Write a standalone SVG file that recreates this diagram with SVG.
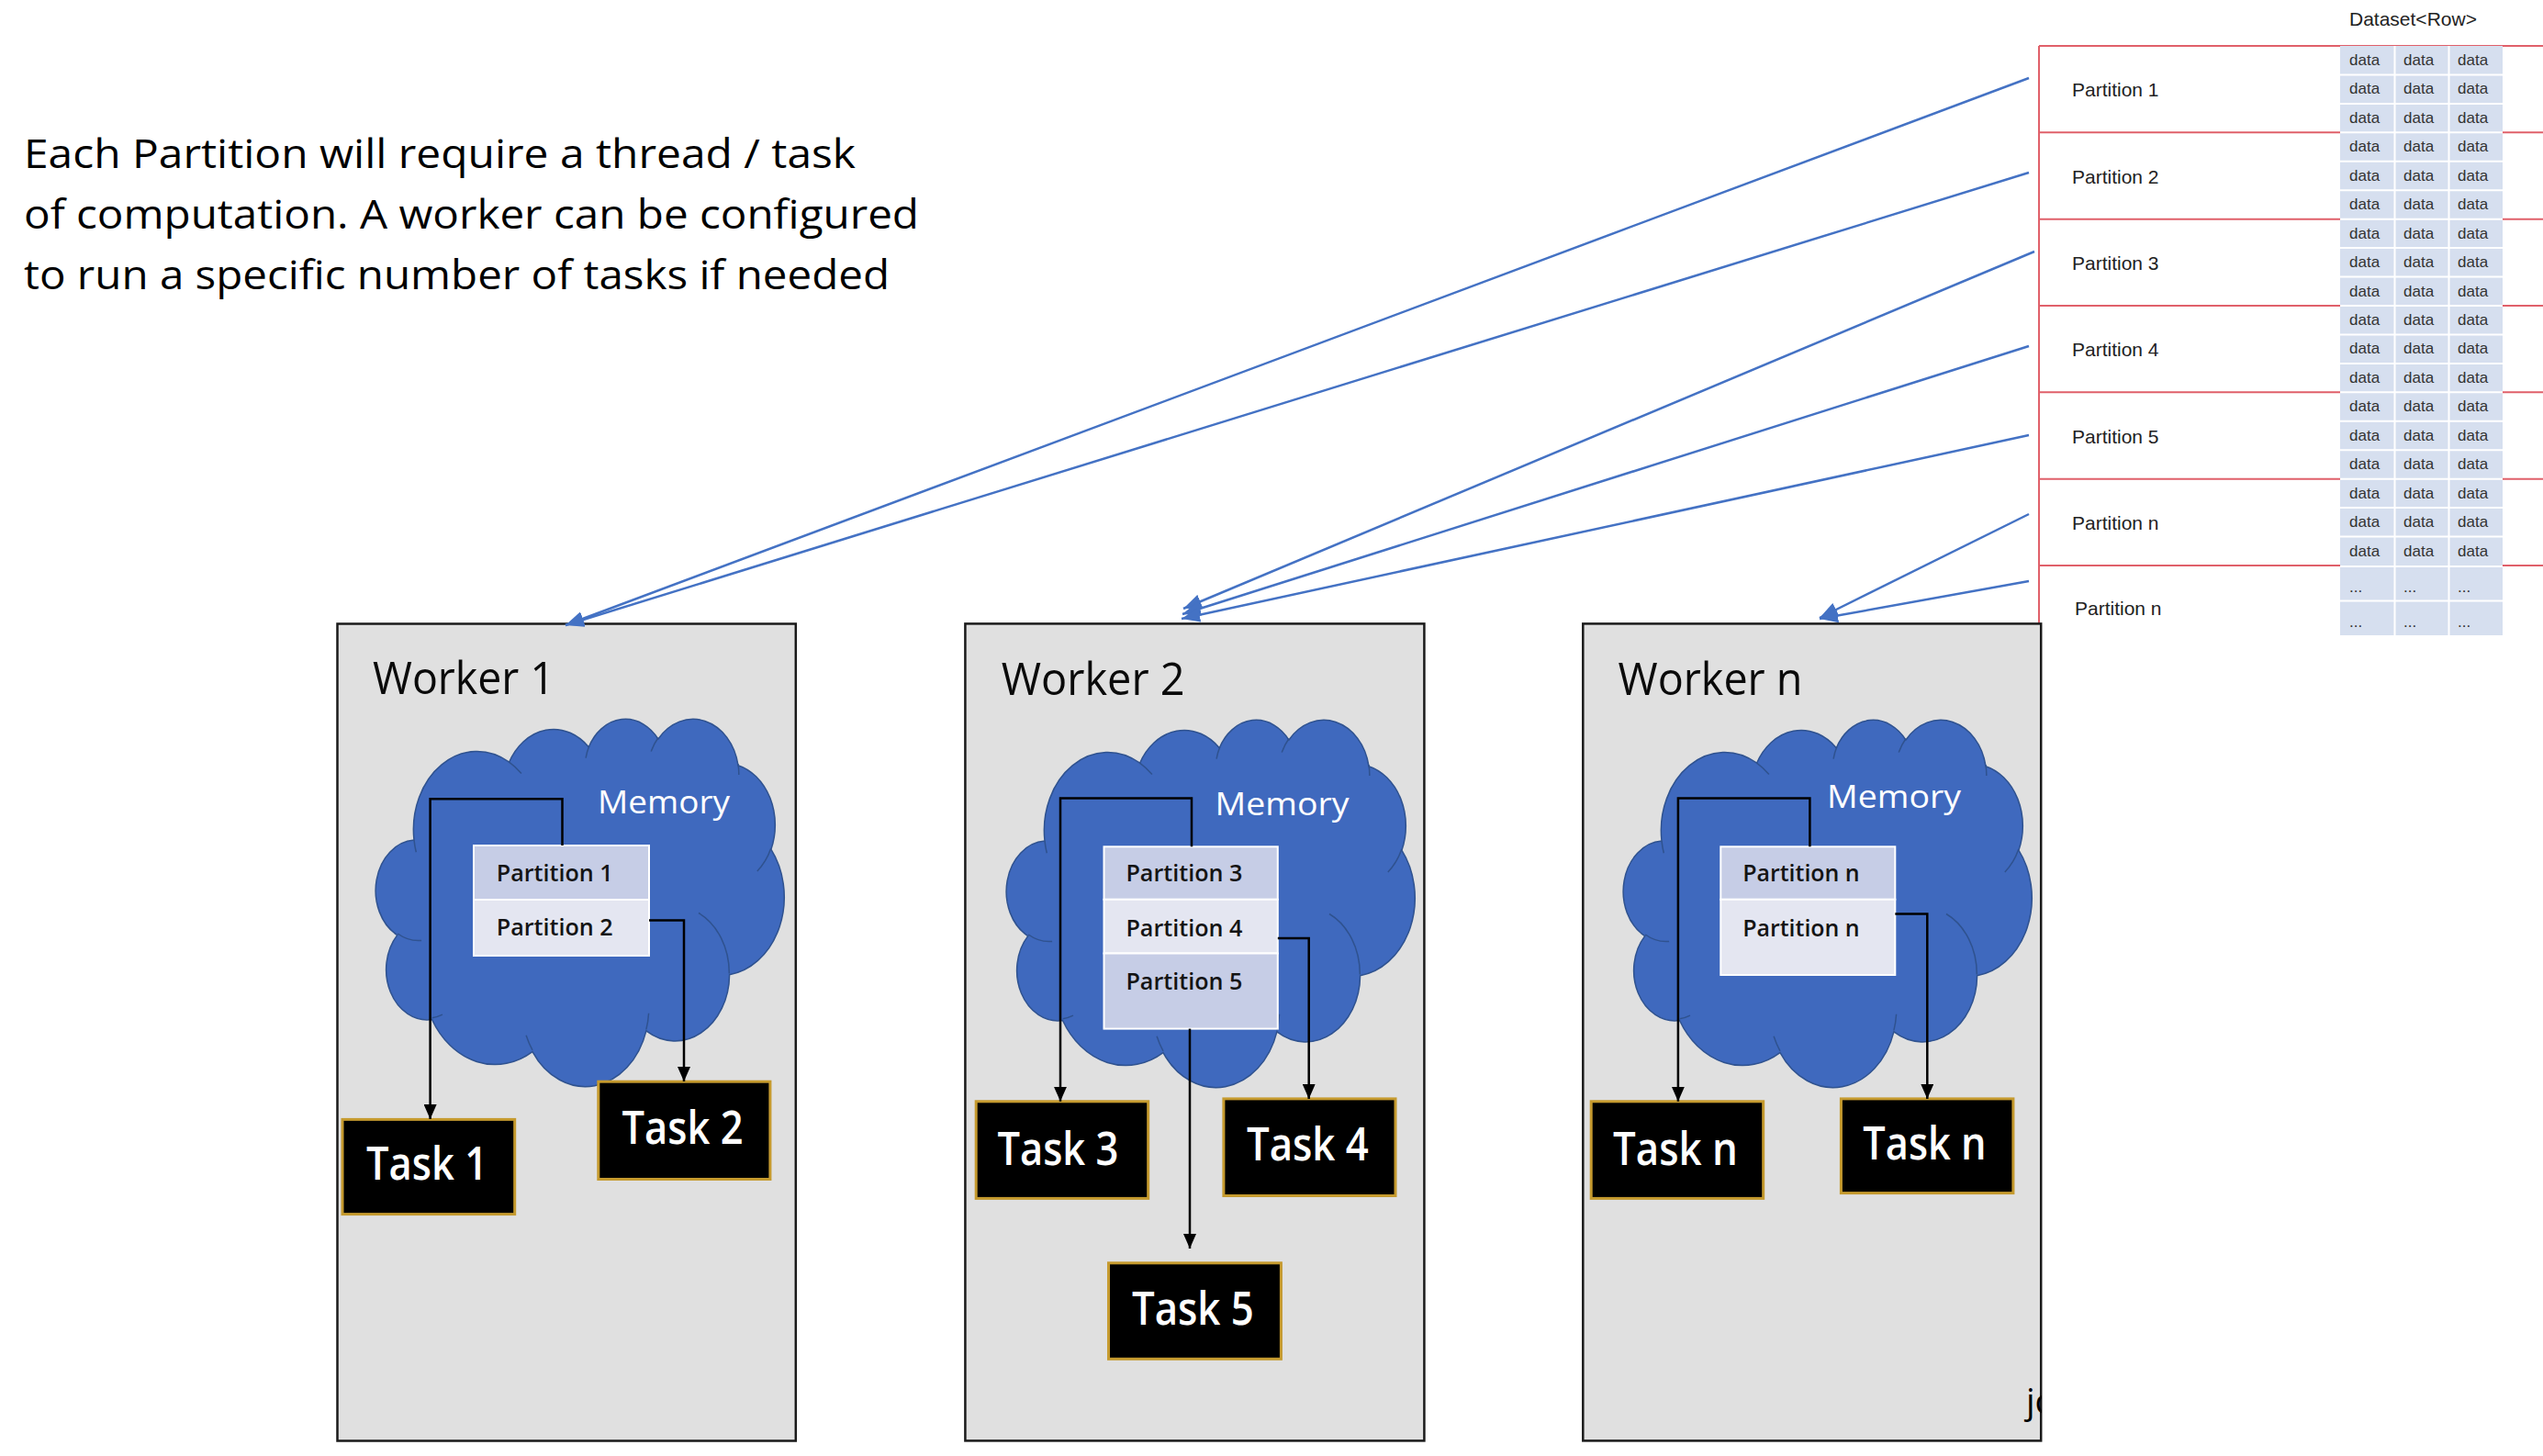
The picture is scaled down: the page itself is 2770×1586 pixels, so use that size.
<svg xmlns="http://www.w3.org/2000/svg" width="2770" height="1586" viewBox="0 0 2770 1586">
<style>
.note{font-family:"Open Sans","Liberation Sans",sans-serif;font-size:44px;font-weight:500;fill:#000}
.wtitle{font-family:"Open Sans","Liberation Sans",sans-serif;font-size:50px;font-weight:500;fill:#0a0a0a}
.mem{font-family:"Open Sans","Liberation Sans",sans-serif;font-size:35px;fill:#fff}
.ptxt{font-family:"Open Sans","Liberation Sans",sans-serif;font-size:26px;font-weight:600;fill:#141414}
.ttxt{font-family:"Open Sans","Liberation Sans",sans-serif;font-size:50px;font-weight:600;fill:#fff}
.tbl{font-family:"Liberation Sans",Arial,sans-serif;font-size:21px;fill:#222}
.dtxt{font-family:"Liberation Sans",Arial,sans-serif;font-size:17px;fill:#333}
.worker{fill:#E0E0E0;stroke:#1a1a1a;stroke-width:2.5}
.task{fill:#000;stroke:#C59A2E;stroke-width:3}
.cloud-fill{fill:#3F69BE;stroke:#2F528F;stroke-width:1.5}
.cloud-crease{fill:none;stroke:#2F528F;stroke-width:1.5}
.prow-d{fill:#C6CDE6;stroke:#fff;stroke-width:2}
.prow-l{fill:#E4E6F1;stroke:#fff;stroke-width:2}
.conn{fill:none;stroke:#000;stroke-width:2.5;marker-end:url(#ah)}
.blue{fill:none;stroke:#4472C4;stroke-width:2.5;marker-end:url(#bh)}
.red{fill:none;stroke:#E0606A;stroke-width:2}
</style>
<defs>
<marker id="ah" viewBox="0 0 16 14" refX="16" refY="7" markerWidth="16" markerHeight="14" markerUnits="userSpaceOnUse" orient="auto"><path d="M0,0 L16,7 L0,14 Z" fill="#000"/></marker>
<marker id="bh" viewBox="0 0 20 16" refX="20" refY="8" markerWidth="20" markerHeight="16" markerUnits="userSpaceOnUse" orient="auto"><path d="M0,0 L20,8 L0,16 Z" fill="#4472C4"/></marker>
<g id="cloud">
<path class="cloud-fill" d="M40.0 133.1 A69.25 85.09 0 0 1 143.6 48.2 A54.69 67.29 0 0 1 230.3 31.8 A44.76 55.05 0 0 1 305.9 23.0 A49.81 61.06 0 0 1 393.0 51.7 A54.69 67.34 0 0 1 428.9 143.2 A69.48 85.37 0 0 1 383.6 279.7 A59.33 72.84 0 0 1 292.9 340.9 A69.24 85.32 0 0 1 169.0 363.6 A79.17 97.62 0 0 1 59.5 328.5 A44.71 54.80 0 0 1 21.7 236.6 A44.56 55.05 0 0 1 40.0 133.1 Z"/>
<path class="cloud-crease" d="M48.1 242.4 A44.56 55.05 0 0 1 22.2 235.0 M71.0 323.1 A44.71 54.80 0 0 1 59.7 326.7 M169.0 361.9 A69.24 85.32 0 0 1 162.1 345.8 M295.6 321.8 A69.24 85.32 0 0 1 292.9 339.4 M350.0 212.5 A59.33 72.84 0 0 1 383.3 278.6 M428.7 142.2 A54.69 67.34 0 0 1 413.8 166.9 M393.0 50.2 A49.81 61.06 0 0 1 393.8 61.9 M298.2 36.6 A49.81 61.06 0 0 1 305.8 21.7 M227.1 43.7 A44.76 55.05 0 0 1 230.7 30.8 M143.6 48.1 A69.25 85.09 0 0 1 156.9 60.6 M42.3 146.2 A69.25 85.09 0 0 1 40.0 133.2"/>
</g>
<clipPath id="jcclip"><rect x="2190" y="1490" width="34" height="80"/></clipPath>
</defs>
<rect width="2770" height="1586" fill="#fff"/>

<g id="note">
<text class="note" x="26" y="183" textLength="906" lengthAdjust="spacingAndGlyphs">Each Partition will require a thread / task</text>
<text class="note" x="26" y="249" textLength="975" lengthAdjust="spacingAndGlyphs">of computation. A worker can be configured</text>
<text class="note" x="26" y="315" textLength="943" lengthAdjust="spacingAndGlyphs">to run a specific number of tasks if needed</text>
</g>

<g id="dataset">
<text class="tbl" x="2559" y="28">Dataset&lt;Row&gt;</text>
<path class="red" d="M2221 50 V680 M2221 50 H2770 M2221 144.3 H2770 M2221 238.7 H2770 M2221 333 H2770 M2221 427.3 H2770 M2221 521.7 H2770 M2221 616 H2770"/>
<rect x="2549" y="50" width="177" height="642" fill="#D6DFEF"/>
<path fill="none" stroke="#fff" stroke-width="2" d="M2608.5 50 V692 M2667.5 50 V692 M2549 81.4 H2726 M2549 112.9 H2726 M2549 144.3 H2726 M2549 175.8 H2726 M2549 207.2 H2726 M2549 238.7 H2726 M2549 270.1 H2726 M2549 301.6 H2726 M2549 333 H2726 M2549 364.4 H2726 M2549 395.9 H2726 M2549 427.3 H2726 M2549 458.8 H2726 M2549 490.2 H2726 M2549 521.7 H2726 M2549 553.1 H2726 M2549 584.6 H2726 M2549 617 H2726 M2549 654.5 H2726"/>
<g id="partition-labels">
<text class="tbl" x="2257" y="105">Partition 1</text>
<text class="tbl" x="2257" y="199.5">Partition 2</text>
<text class="tbl" x="2257" y="294">Partition 3</text>
<text class="tbl" x="2257" y="388">Partition 4</text>
<text class="tbl" x="2257" y="482.5">Partition 5</text>
<text class="tbl" x="2257" y="577">Partition n</text>
<text class="tbl" x="2260" y="670">Partition n</text>
</g>
<g id="data-cells" class="dtxt">
<text y="71.0"><tspan x="2559">data</tspan><tspan x="2618">data</tspan><tspan x="2677">data</tspan></text>
<text y="102.4"><tspan x="2559">data</tspan><tspan x="2618">data</tspan><tspan x="2677">data</tspan></text>
<text y="133.9"><tspan x="2559">data</tspan><tspan x="2618">data</tspan><tspan x="2677">data</tspan></text>
<text y="165.3"><tspan x="2559">data</tspan><tspan x="2618">data</tspan><tspan x="2677">data</tspan></text>
<text y="196.8"><tspan x="2559">data</tspan><tspan x="2618">data</tspan><tspan x="2677">data</tspan></text>
<text y="228.2"><tspan x="2559">data</tspan><tspan x="2618">data</tspan><tspan x="2677">data</tspan></text>
<text y="259.7"><tspan x="2559">data</tspan><tspan x="2618">data</tspan><tspan x="2677">data</tspan></text>
<text y="291.1"><tspan x="2559">data</tspan><tspan x="2618">data</tspan><tspan x="2677">data</tspan></text>
<text y="322.6"><tspan x="2559">data</tspan><tspan x="2618">data</tspan><tspan x="2677">data</tspan></text>
<text y="354.0"><tspan x="2559">data</tspan><tspan x="2618">data</tspan><tspan x="2677">data</tspan></text>
<text y="385.4"><tspan x="2559">data</tspan><tspan x="2618">data</tspan><tspan x="2677">data</tspan></text>
<text y="416.9"><tspan x="2559">data</tspan><tspan x="2618">data</tspan><tspan x="2677">data</tspan></text>
<text y="448.3"><tspan x="2559">data</tspan><tspan x="2618">data</tspan><tspan x="2677">data</tspan></text>
<text y="479.8"><tspan x="2559">data</tspan><tspan x="2618">data</tspan><tspan x="2677">data</tspan></text>
<text y="511.2"><tspan x="2559">data</tspan><tspan x="2618">data</tspan><tspan x="2677">data</tspan></text>
<text y="542.7"><tspan x="2559">data</tspan><tspan x="2618">data</tspan><tspan x="2677">data</tspan></text>
<text y="574.1"><tspan x="2559">data</tspan><tspan x="2618">data</tspan><tspan x="2677">data</tspan></text>
<text y="605.6"><tspan x="2559">data</tspan><tspan x="2618">data</tspan><tspan x="2677">data</tspan></text>
<text y="645"><tspan x="2559">...</tspan><tspan x="2618">...</tspan><tspan x="2677">...</tspan></text>
<text y="683"><tspan x="2559">...</tspan><tspan x="2618">...</tspan><tspan x="2677">...</tspan></text>
</g>
</g>

<g id="worker1">
<rect class="worker" x="367.5" y="679.5" width="499.3" height="890"/>
<text class="wtitle" x="406" y="756" textLength="198" lengthAdjust="spacingAndGlyphs">Worker 1</text>
<g id="memory1">
<use href="#cloud" transform="translate(411,782)"/>
<text class="mem" x="651" y="885.5" textLength="144" lengthAdjust="spacingAndGlyphs">Memory</text>
<rect class="prow-d" x="516" y="921" width="191" height="59"/>
<rect class="prow-l" x="516" y="980" width="191" height="61"/>
<text class="ptxt" x="540.7" y="960" textLength="127" lengthAdjust="spacingAndGlyphs">Partition 1</text>
<text class="ptxt" x="540.7" y="1019" textLength="127" lengthAdjust="spacingAndGlyphs">Partition 2</text>
</g>
<g id="task1">
<rect class="task" x="373" y="1219.4" width="187.7" height="103.2"/>
<text class="ttxt" x="399" y="1285" textLength="132" lengthAdjust="spacingAndGlyphs">Task 1</text>
</g>
<g id="task2">
<rect class="task" x="651.8" y="1178.2" width="187.1" height="106.3"/>
<text class="ttxt" x="677.5" y="1246" textLength="132" lengthAdjust="spacingAndGlyphs">Task 2</text>
</g>
</g>

<g id="worker2">
<rect class="worker" x="1051.4" y="679.4" width="500" height="890"/>
<text class="wtitle" x="1090.7" y="756.8" textLength="200" lengthAdjust="spacingAndGlyphs">Worker 2</text>
<g id="memory2">
<use href="#cloud" transform="translate(1098,783)"/>
<text class="mem" x="1323.6" y="887.7" textLength="146" lengthAdjust="spacingAndGlyphs">Memory</text>
<rect class="prow-d" x="1202.5" y="922.3" width="189.3" height="57.5"/>
<rect class="prow-l" x="1202.5" y="979.8" width="189.3" height="58.7"/>
<rect class="prow-d" x="1202.5" y="1038.5" width="189.3" height="82.1"/>
<text class="ptxt" x="1226.4" y="960.4" textLength="127" lengthAdjust="spacingAndGlyphs">Partition 3</text>
<text class="ptxt" x="1226.4" y="1020.3" textLength="127" lengthAdjust="spacingAndGlyphs">Partition 4</text>
<text class="ptxt" x="1226.4" y="1078.4" textLength="127" lengthAdjust="spacingAndGlyphs">Partition 5</text>
</g>
<g id="task3">
<rect class="task" x="1063.2" y="1199.8" width="187.5" height="105.6"/>
<text class="ttxt" x="1086.4" y="1268.5" textLength="132" lengthAdjust="spacingAndGlyphs">Task 3</text>
</g>
<g id="task4">
<rect class="task" x="1332.9" y="1196.9" width="187.1" height="105.6"/>
<text class="ttxt" x="1357.9" y="1264.4" textLength="133" lengthAdjust="spacingAndGlyphs">Task 4</text>
</g>
<g id="task5">
<rect class="task" x="1207.5" y="1375.8" width="187.9" height="104.5"/>
<text class="ttxt" x="1232.9" y="1443.3" textLength="133" lengthAdjust="spacingAndGlyphs">Task 5</text>
</g>
</g>

<g id="workern">
<rect class="worker" x="1724.3" y="679.4" width="498.9" height="890"/>
<text class="wtitle" x="1762.5" y="756.8" textLength="201" lengthAdjust="spacingAndGlyphs">Worker n</text>
<g id="memoryn">
<use href="#cloud" transform="translate(1770,783)"/>
<text class="mem" x="1990" y="880" textLength="146" lengthAdjust="spacingAndGlyphs">Memory</text>
<rect class="prow-d" x="1874.3" y="922.3" width="190" height="57.5"/>
<rect class="prow-l" x="1874.3" y="979.8" width="190" height="82.2"/>
<text class="ptxt" x="1898.2" y="960.4" textLength="127.5" lengthAdjust="spacingAndGlyphs">Partition n</text>
<text class="ptxt" x="1898.2" y="1020.3" textLength="127.5" lengthAdjust="spacingAndGlyphs">Partition n</text>
</g>
<g id="taskn1">
<rect class="task" x="1733.2" y="1199.8" width="187.5" height="105.6"/>
<text class="ttxt" x="1757" y="1268.5" textLength="135.7" lengthAdjust="spacingAndGlyphs">Task n</text>
</g>
<g id="taskn2">
<rect class="task" x="2005.4" y="1196.9" width="187.5" height="102.7"/>
<text class="ttxt" x="2029.3" y="1263.2" textLength="134.3" lengthAdjust="spacingAndGlyphs">Task n</text>
</g>
<text x="2207" y="1540" clip-path="url(#jcclip)" font-family="Open Sans, Liberation Sans, sans-serif" font-size="38" fill="#000">jc</text>
</g>

<g id="connectors">
<path class="conn" d="M612.5 921 V870.3 H468.6 V1219"/>
<path class="conn" d="M707 1002.6 H745 V1178"/>
<path class="conn" d="M1298 922.3 V869.5 H1155 V1199.8"/>
<path class="conn" d="M1391.8 1022 H1425.7 V1196.9"/>
<path class="conn" d="M1296 1120.6 V1360"/>
<path class="conn" d="M1971.4 922.3 V869.5 H1827.9 V1199.8"/>
<path class="conn" d="M2064.3 995.6 H2099.3 V1196.9"/>
<path class="blue" d="M2210 85 L616 681"/>
<path class="blue" d="M2210 188 L616 681"/>
<path class="blue" d="M2216 274 L1289 663"/>
<path class="blue" d="M2210 377 L1288 669"/>
<path class="blue" d="M2210 474 L1287 674"/>
<path class="blue" d="M2210 560 L1982 673"/>
<path class="blue" d="M2210 633 L1982 674"/>
</g>
</svg>
